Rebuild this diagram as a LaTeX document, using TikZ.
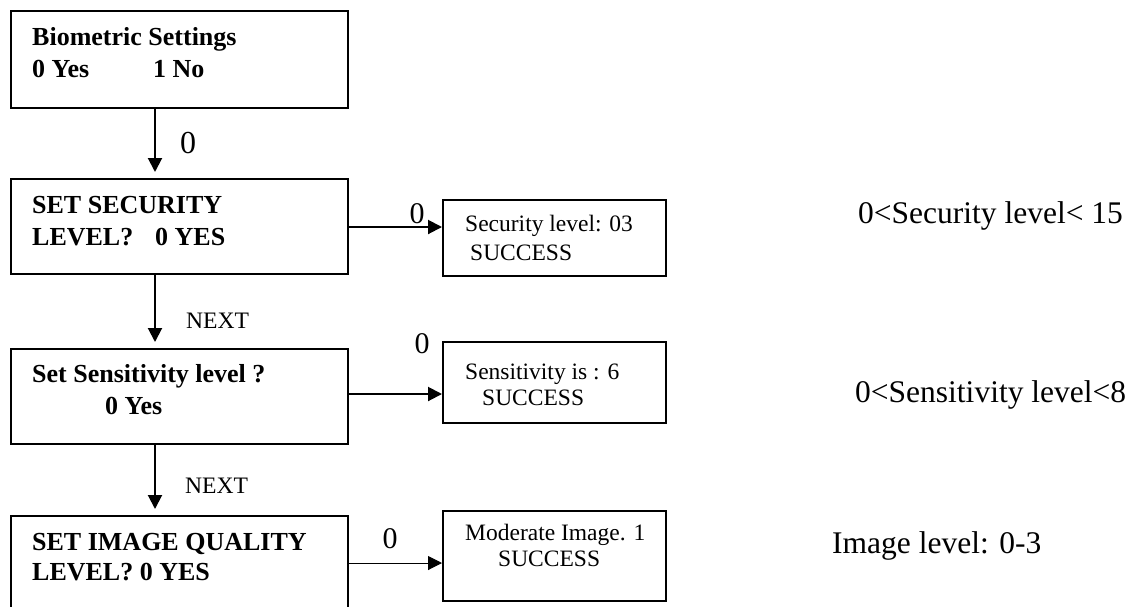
\documentclass[tikz,border=0pt]{standalone}
\usepackage{fontspec}
\setmainfont{Liberation Serif}
\usetikzlibrary{arrows.meta}
\begin{document}
\begin{tikzpicture}[x=1pt,y=-1pt,
  framebox/.style={draw, line width=2pt, anchor=north west, inner sep=0pt},
  menutext/.style={anchor=base west, inner sep=0pt, font=\fontsize{26}{30}\selectfont\bfseries},
  lcdtext/.style={anchor=base west, inner sep=0pt, font=\fontsize{23.5}{27}\selectfont},
  notetext/.style={anchor=base west, inner sep=0pt, font=\fontsize{31.5}{36}\selectfont},
  keytext/.style={anchor=base, inner sep=0pt, font=\fontsize{30}{34}\selectfont},
  nexttext/.style={anchor=base west, inner sep=0pt, font=\fontsize{23.6}{27}\selectfont},
  flow/.style={line width=2pt, -{Triangle[length=14pt,width=14pt]}},
  thinflow/.style={line width=1pt, -{Triangle[length=14pt,width=14pt]}}]

\clip (0,0) rectangle (1134,606);

% menu screens
\node[framebox, minimum width=337pt, minimum height=97pt] (b1) at (10,10) {};
\node[framebox, minimum width=337pt, minimum height=95pt] (b2) at (10,178) {};
\node[framebox, minimum width=337pt, minimum height=95pt] (b3) at (10,348) {};
\node[framebox, minimum width=337pt, minimum height=120pt] (b4) at (10,515) {};

% result screens
\node[framebox, minimum width=223pt, minimum height=76pt] (s1) at (442,199) {};
\node[framebox, minimum width=223pt, minimum height=81pt] (s2) at (442,341) {};
\node[framebox, minimum width=223pt, minimum height=90pt] (s3) at (442,510) {};

% menu texts
\node[menutext] (t1a) at (32,45) {Biometric Settings};
\node[menutext] (t1b) at (32,77) {0 Yes};
\node[menutext] (t1c) at (153,77) {1 No};
\node[menutext] (t2a) at (32,213) {SET SECURITY};
\node[menutext] (t2b) at (32,245) {LEVEL?};
\node[menutext] (t2c) at (155,245) {0 YES};
\node[menutext] (t3a) at (32,382) {Set Sensitivity level ?};
\node[menutext] (t3b) at (105,414) {0 Yes};
\node[menutext] (t4a) at (32,550) {SET IMAGE QUALITY};
\node[menutext] (t4b) at (32,580) {LEVEL? 0 YES};

% result texts
\node[lcdtext] (r1a) at (465,231) {Security level: 03};
\node[lcdtext] (r1b) at (470,260) {SUCCESS};
\node[lcdtext] (r2a) at (465,379) {Sensitivity is : 6};
\node[lcdtext] (r2b) at (482,405) {SUCCESS};
\node[lcdtext] (r3a) at (465,540) {Moderate Image. 1};
\node[lcdtext] (r3b) at (498,566) {SUCCESS};

% value ranges
\node[notetext] (n1) at (858,223) {0<Security level< 15};
\node[notetext] (n2) at (855,402) {0<Sensitivity level<8};
\node[notetext] (n3) at (832,553) {Image level: 0-3};

% connector helpers
\coordinate (vx) at (155,0);
\coordinate (h1) at (0,227);
\coordinate (h2) at (0,394);
\coordinate (h3) at (0,563);

% downward flow
\draw[flow, shorten >=6pt] (b1.south -| vx) -- (b2.north -| vx);
\draw[flow, shorten >=6pt] (b2.south -| vx) -- (b3.north -| vx);
\draw[flow, shorten >=6pt] (b3.south -| vx) -- (b4.north -| vx);

% key 0 to result screens
\draw[flow] (b2.east |- h1) -- (s1.west |- h1);
\draw[flow] (b3.east |- h2) -- (s2.west |- h2);
\draw[thinflow] (b4.east |- h3) -- (s3.west |- h3);

% key labels
\node[keytext, font=\fontsize{32}{36}\selectfont] (k1) at (188,153) {0};
\node[nexttext] (x1) at (186,328) {NEXT};
\node[nexttext] (x2) at (185,493) {NEXT};
\node[keytext] (k2) at (417,223) {0};
\node[keytext] (k3) at (422,353) {0};
\node[keytext] (k4) at (390,548) {0};
\end{tikzpicture}
\end{document}
